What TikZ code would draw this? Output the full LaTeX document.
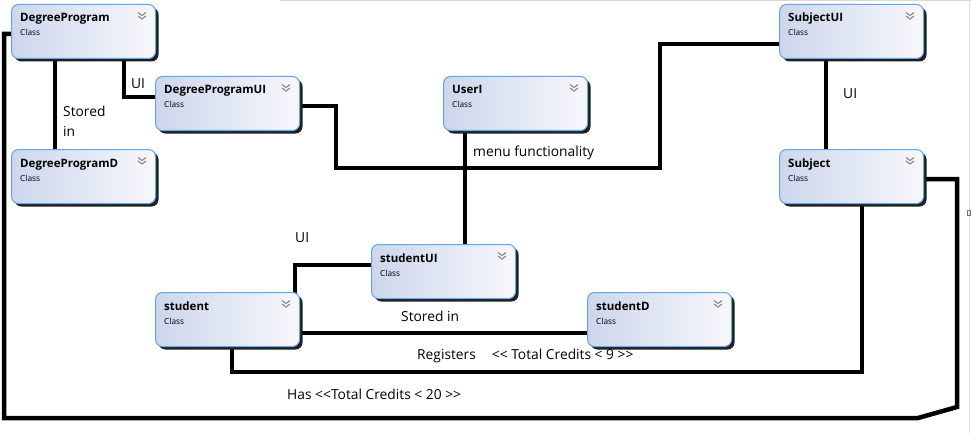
\documentclass[tikz,border=0pt]{standalone}
\usepackage{fontspec}
\setmainfont{Open Sans}
\usetikzlibrary{calc,shadows}
\definecolor{boxborder}{HTML}{62A6EC}
\definecolor{boxleft}{HTML}{CDD6EC}
\definecolor{boxright}{HTML}{F7F8FC}
\definecolor{chevgray}{HTML}{8A8A8A}
\pgfdeclarelayer{background}
\pgfsetlayers{background,main}
\tikzset{
  umlbox/.style={draw=boxborder, line width=1pt, rounded corners=7pt,
    left color=boxleft, right color=boxright,
    minimum width=144pt, minimum height=54pt, anchor=north west, inner sep=0pt,
    drop shadow={shadow xshift=3pt, shadow yshift=-3pt, fill=black!88, opacity=1}},
  umltitle/.style={anchor=base west, inner sep=0pt, font=\fontsize{11.5}{13}\selectfont\bfseries},
  umlsub/.style={anchor=base west, inner sep=0pt, font=\fontsize{8.3}{10}\selectfont},
  chev/.style={draw=chevgray, line width=1.1pt},
  conn/.style={draw=black, line width=4.5pt, line join=miter, line cap=rect},
  lbl/.style={anchor=base west, inner sep=0pt, font=\fontsize{13.8}{16}\selectfont, text=black}
}
\newcommand\umlclass[4]{%
  \node[umlbox] (#1) at (#2,#3) {};
  \node[umltitle] (#1-title) at ($(#1.north west)+(9,18)$) {#4};
  \node[umlsub] (#1-class) at ($(#1.north west)+(9,32)$) {Class};
  \draw[chev] ($(#1.north east)+(-18,8.5)$) -- ++(4,3) -- ++(4,-3);
  \draw[chev] ($(#1.north east)+(-18,12)$) -- ++(4,3) -- ++(4,-3);
}
\begin{document}
\begin{tikzpicture}[x=1pt,y=-1pt]
\useasboundingbox (0,0) rectangle (971,433);

\umlclass{dp}{11}{4}{DegreeProgram}
\umlclass{dpui}{155}{76}{DegreeProgramUI}
\umlclass{dpd}{11}{149}{DegreeProgramD}
\umlclass{useri}{443}{76}{UserI}
\umlclass{subui}{779}{4}{SubjectUI}
\umlclass{subj}{779}{149}{Subject}
\umlclass{stui}{371}{244}{studentUI}
\umlclass{st}{155}{292}{student}
\umlclass{std}{587}{292}{studentD}

\begin{pgfonlayer}{background}
\fill[white] (0,0) rectangle (971,433);
\draw[black!15, line width=1pt] (280,0.5) -- (971,0.5);
\draw[black!15, line width=1pt] (969.5,0) -- (969.5,433);
\draw[black!55, line width=0.6pt] (967,210) rectangle (970,215);
\draw[conn] (55,0 |- dp.south) -- (55,0 |- dpd.north);
\draw[conn] (124,0 |- dp.south) -- (124,97) -- (dpui.west |- 0,97);
\draw[conn] (dpui.east |- 0,106) -- (336,106) -- (336,168) -- (660,168) -- (660,44) -- (subui.west |- 0,44);
\draw[conn] (465,0 |- useri.south) -- (465,0 |- stui.north);
\draw[conn] (826,0 |- subui.south) -- (826,0 |- subj.north);
\draw[conn] (232,0 |- st.south) -- (232,372) -- (862,372) -- (862,0 |- subj.south);
\draw[conn] (subj.east |- 0,179) -- (957,179) -- (957,407) -- (918,418) -- (4,418) -- (4,34) -- (dp.west |- 0,34);
\draw[conn] (stui.west |- 0,265) -- (295,265) -- (295,0 |- st.north);
\draw[conn] (st.east |- 0,333) -- (std.west |- 0,333);
\end{pgfonlayer}

\node[lbl] (l-dpui) at (131,89) {UI};
\node[lbl] (l-stored1) at (63,117) {Stored};
\node[lbl] (l-stored2) at (63,136) {in};
\node[lbl] (l-menu) at (473,156) {menu functionality};
\node[lbl] (l-subui) at (843,99) {UI};
\node[lbl] (l-stui) at (295,242) {UI};
\node[lbl] (l-storedin) at (401,321) {Stored in};
\node[lbl] (l-reg) at (417,359) {Registers\hspace{16pt}{<}{<} Total Credits {<} 9 {>}{>}};
\node[lbl] (l-has) at (287,399) {Has {<}{<}Total Credits {<} 20 {>}{>}};
\end{tikzpicture}
\end{document}
